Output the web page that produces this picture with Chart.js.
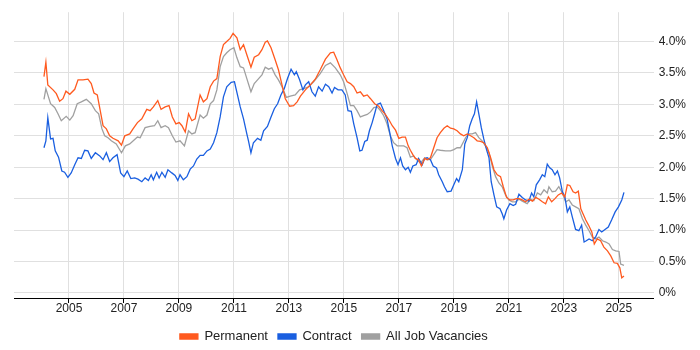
<!DOCTYPE html>
<html>
<head>
<meta charset="utf-8">
<script src="https://cdn.jsdelivr.net/npm/chart.js@4"></script>
<style>
  body { margin: 0; background: #fff; }
</style>
</head>
<body>
<canvas id="myChart" width="700" height="350"></canvas>
<script>

// datos (año decimal, % de vacantes)

const yearTicks = [2005, 2007, 2009, 2011, 2013, 2015, 2017, 2019, 2021, 2023, 2025];
const pctTicks = [0, 0.5, 1, 1.5, 2, 2.5, 3, 3.5, 4];

const permDates = [2004.09, 2004.16, 2004.23, 2004.42, 2004.54, 2004.66, 2004.78, 2004.89, 2005.03, 2005.21, 2005.33, 2005.51, 2005.69, 2005.81, 2005.91, 2006.03, 2006.18, 2006.24, 2006.36, 2006.48, 2006.60, 2006.79, 2006.91, 2007.03, 2007.21, 2007.33, 2007.49,
  2007.65, 2007.83, 2007.95, 2008.07, 2008.23, 2008.35, 2008.50, 2008.64, 2008.76, 2008.89, 2009.01, 2009.11, 2009.23, 2009.35, 2009.47, 2009.59, 2009.77, 2009.89, 2010.02, 2010.14, 2010.26, 2010.38, 2010.50, 2010.62, 2010.74, 2010.86, 2010.97,
  2011.11, 2011.23, 2011.35, 2011.47, 2011.62, 2011.74, 2011.90, 2012.02, 2012.14, 2012.22, 2012.35, 2012.50, 2012.62, 2012.75, 2012.87, 2013.03, 2013.17, 2013.30, 2013.42, 2013.60, 2013.78, 2013.96, 2014.14, 2014.33,
  2014.51, 2014.63, 2014.75, 2014.87, 2014.99, 2015.12, 2015.24, 2015.36, 2015.48, 2015.60, 2015.72, 2015.85, 2015.97, 2016.12, 2016.27, 2016.39, 2016.51, 2016.66, 2016.76, 2016.88, 2017.00, 2017.12, 2017.24, 2017.34, 2017.42, 2017.51, 2017.60, 2017.72, 2017.82, 2017.94,
  2018.03, 2018.15, 2018.27, 2018.39, 2018.51, 2018.64, 2018.76, 2018.88, 2019.00, 2019.12, 2019.24, 2019.36, 2019.49, 2019.61, 2019.73, 2019.85, 2019.97, 2020.09, 2020.22, 2020.34, 2020.46, 2020.58, 2020.70, 2020.80, 2020.92, 2021.04, 2021.16, 2021.28,
  2021.37, 2021.49, 2021.61, 2021.73, 2021.86, 2021.98, 2022.10, 2022.22, 2022.34, 2022.44, 2022.56, 2022.68, 2022.80, 2022.92, 2023.04, 2023.13, 2023.22, 2023.34, 2023.43, 2023.53, 2023.62, 2023.70, 2023.80, 2023.90, 2024.02, 2024.11, 2024.22, 2024.34, 2024.46, 2024.59, 2024.71, 2024.83, 2024.95, 2025.04, 2025.11, 2025.19];
const permValues = [3.44, 3.67, 3.31, 3.23, 3.17, 3.05, 3.09, 3.21, 3.16, 3.24, 3.39, 3.39, 3.40, 3.33, 3.18, 3.15, 2.80, 2.66, 2.61, 2.50, 2.46, 2.42, 2.35, 2.50, 2.53, 2.61, 2.71,
  2.77, 2.92, 2.90, 2.96, 3.06, 2.92, 2.96, 2.98, 2.80, 2.69, 2.71, 2.66, 2.56, 2.85, 2.74, 2.77, 3.15, 3.04, 3.09, 3.28, 3.37, 3.41, 3.76, 3.95, 4.00, 4.05, 4.13,
  4.06, 3.87, 3.95, 3.79, 3.59, 3.75, 3.79, 3.87, 3.99, 4.01, 3.90, 3.71, 3.55, 3.31, 3.09, 2.97, 2.98, 3.04, 3.13, 3.23, 3.31, 3.40, 3.55, 3.72,
  3.82, 3.83, 3.71, 3.58, 3.47, 3.36, 3.33, 3.28, 3.18, 3.20, 3.13, 3.15, 3.09, 3.01, 2.97, 2.90, 2.84, 2.74, 2.66, 2.59, 2.46, 2.48, 2.48, 2.34, 2.27, 2.20, 2.14, 2.12, 2.02, 2.14,
  2.12, 2.15, 2.31, 2.47, 2.55, 2.62, 2.66, 2.62, 2.61, 2.58, 2.53, 2.50, 2.53, 2.50, 2.47, 2.42, 2.41, 2.39, 2.31, 2.15, 1.96, 1.88, 1.85, 1.69, 1.52, 1.48, 1.48, 1.50,
  1.50, 1.48, 1.45, 1.49, 1.46, 1.52, 1.49, 1.45, 1.42, 1.53, 1.45, 1.50, 1.56, 1.59, 1.53, 1.72, 1.71, 1.61, 1.59, 1.62, 1.34, 1.26, 1.16, 1.08, 0.97, 0.78, 0.86, 0.83, 0.73, 0.67, 0.59, 0.48, 0.47, 0.40, 0.24, 0.27];

const contractDates = [2004.09, 2004.16, 2004.23, 2004.33, 2004.42, 2004.50, 2004.62, 2004.74, 2004.84, 2004.96, 2005.08, 2005.21, 2005.33, 2005.45, 2005.57, 2005.69, 2005.81, 2005.96, 2006.12, 2006.24, 2006.36, 2006.48, 2006.60, 2006.75, 2006.88, 2007.00, 2007.12, 2007.25, 2007.39, 2007.51,
  2007.65, 2007.77, 2007.89, 2007.99, 2008.07, 2008.19, 2008.28, 2008.38, 2008.50, 2008.60, 2008.74, 2008.86, 2008.96, 2009.04, 2009.16, 2009.29, 2009.41, 2009.53, 2009.65, 2009.77, 2009.89, 2010.02, 2010.14, 2010.26, 2010.38, 2010.50, 2010.62, 2010.74, 2010.90, 2011.02,
  2011.13, 2011.23, 2011.35, 2011.47, 2011.53, 2011.62, 2011.71, 2011.86, 2011.98, 2012.08, 2012.22, 2012.35, 2012.47, 2012.59, 2012.71, 2012.83, 2012.95, 2013.08, 2013.20, 2013.27, 2013.39, 2013.51, 2013.60, 2013.72, 2013.84, 2013.96, 2014.08, 2014.21, 2014.33,
  2014.45, 2014.57, 2014.66, 2014.79, 2014.93, 2015.05, 2015.15, 2015.27, 2015.36, 2015.48, 2015.58, 2015.66, 2015.76, 2015.85, 2015.93, 2016.03, 2016.12, 2016.21, 2016.33, 2016.45, 2016.57, 2016.67, 2016.76, 2016.88, 2016.97, 2017.06, 2017.14, 2017.24, 2017.34, 2017.42, 2017.51, 2017.63, 2017.72, 2017.85, 2017.94,
  2018.03, 2018.15, 2018.25, 2018.37, 2018.45, 2018.58, 2018.66, 2018.76, 2018.90, 2019.00, 2019.10, 2019.18, 2019.31, 2019.40, 2019.49, 2019.58, 2019.67, 2019.75, 2019.83, 2019.91, 2020.00, 2020.09, 2020.19, 2020.28, 2020.36, 2020.46, 2020.56, 2020.68, 2020.76, 2020.82, 2020.92, 2021.04, 2021.16,
  2021.25, 2021.37, 2021.49, 2021.61, 2021.73, 2021.83, 2021.91, 2022.00, 2022.12, 2022.22, 2022.31, 2022.40, 2022.49, 2022.58, 2022.68, 2022.77, 2022.85, 2022.95, 2023.04, 2023.13, 2023.22, 2023.31, 2023.43, 2023.55, 2023.65, 2023.74, 2023.82, 2023.92, 2024.04, 2024.16, 2024.28, 2024.38, 2024.50, 2024.62, 2024.74, 2024.87, 2024.99, 2025.11, 2025.19];
const contractValues = [2.31, 2.42, 2.79, 2.45, 2.46, 2.26, 2.16, 1.94, 1.92, 1.84, 1.91, 2.04, 2.15, 2.14, 2.27, 2.26, 2.14, 2.23, 2.18, 2.12, 2.23, 2.09, 2.15, 2.20, 1.91, 1.85, 1.94, 1.82, 1.83, 1.81,
  1.77, 1.83, 1.79, 1.88, 1.80, 1.92, 1.83, 1.92, 1.84, 1.96, 1.91, 1.87, 1.79, 1.88, 1.80, 1.85, 1.97, 2.02, 2.13, 2.19, 2.19, 2.26, 2.29, 2.39, 2.55, 2.80, 3.12, 3.28, 3.35, 3.36,
  3.15, 2.96, 2.77, 2.53, 2.42, 2.23, 2.39, 2.46, 2.43, 2.58, 2.65, 2.80, 2.93, 3.01, 3.15, 3.25, 3.41, 3.56, 3.47, 3.52, 3.39, 3.23, 3.31, 3.36, 3.20, 3.13, 3.28, 3.21, 3.32,
  3.28, 3.18, 3.27, 3.23, 3.23, 3.15, 2.90, 2.89, 2.69, 2.47, 2.26, 2.27, 2.41, 2.43, 2.58, 2.71, 2.85, 3.00, 3.02, 2.90, 2.77, 2.55, 2.34, 2.14, 2.04, 2.15, 2.02, 1.96, 2.00, 1.92, 2.02, 2.04, 2.14, 2.04, 2.14,
  2.15, 2.12, 2.02, 1.99, 1.88, 1.77, 1.69, 1.61, 1.62, 1.72, 1.82, 1.77, 1.96, 2.37, 2.47, 2.66, 2.77, 2.85, 3.04, 2.85, 2.63, 2.45, 2.28, 2.15, 1.77, 1.56, 1.37, 1.34, 1.26, 1.18, 1.32, 1.42, 1.39,
  1.41, 1.57, 1.52, 1.48, 1.46, 1.59, 1.53, 1.72, 1.80, 1.88, 1.85, 2.05, 1.99, 1.96, 1.88, 1.94, 1.83, 1.61, 1.53, 1.29, 1.37, 1.21, 1.01, 0.99, 1.08, 0.81, 0.83, 0.86, 0.83, 0.89, 1.01, 0.97, 1.01, 1.05, 1.16, 1.29, 1.37, 1.48, 1.60];

const allDates = [2004.09, 2004.16, 2004.33, 2004.48, 2004.60, 2004.72, 2004.90, 2005.03, 2005.15, 2005.30, 2005.45, 2005.63, 2005.81, 2005.96, 2006.08, 2006.20, 2006.30, 2006.42, 2006.54, 2006.72, 2006.91, 2007.05, 2007.21, 2007.49,
  2007.59, 2007.77, 2007.95, 2008.11, 2008.23, 2008.35, 2008.50, 2008.62, 2008.76, 2008.89, 2009.04, 2009.20, 2009.35, 2009.47, 2009.59, 2009.77, 2009.89, 2010.02, 2010.14, 2010.26, 2010.38, 2010.50, 2010.62, 2010.74, 2010.86, 2011.00,
  2011.11, 2011.23, 2011.35, 2011.47, 2011.62, 2011.74, 2011.90, 2012.02, 2012.14, 2012.26, 2012.38, 2012.50, 2012.62, 2012.75, 2012.91, 2013.05, 2013.23, 2013.39, 2013.54, 2013.72, 2013.90, 2014.14, 2014.33,
  2014.51, 2014.69, 2014.87, 2014.99, 2015.12, 2015.24, 2015.36, 2015.48, 2015.60, 2015.72, 2015.85, 2015.97, 2016.09, 2016.21, 2016.33, 2016.45, 2016.57, 2016.69, 2016.81, 2016.94, 2017.06, 2017.18, 2017.30, 2017.42, 2017.54, 2017.67, 2017.79, 2017.94,
  2018.03, 2018.15, 2018.27, 2018.39, 2018.51, 2018.70, 2018.88, 2019.00, 2019.12, 2019.24, 2019.31, 2019.43, 2019.55, 2019.67, 2019.79, 2019.91, 2020.03, 2020.15, 2020.28, 2020.40, 2020.52, 2020.64, 2020.76, 2020.88, 2021.00, 2021.13,
  2021.25, 2021.37, 2021.49, 2021.67, 2021.79, 2021.91, 2022.04, 2022.16, 2022.28, 2022.40, 2022.46, 2022.58, 2022.70, 2022.82, 2022.95, 2023.07, 2023.19, 2023.31, 2023.43, 2023.55, 2023.68, 2023.80, 2023.92, 2024.04, 2024.16, 2024.28, 2024.41, 2024.53, 2024.65, 2024.77, 2024.89, 2025.01, 2025.07, 2025.19];
const allValues = [3.08, 3.25, 3.01, 2.95, 2.85, 2.74, 2.81, 2.75, 2.82, 3.01, 3.04, 3.08, 3.01, 2.90, 2.85, 2.61, 2.50, 2.47, 2.42, 2.37, 2.23, 2.34, 2.37, 2.48,
  2.47, 2.63, 2.65, 2.66, 2.74, 2.63, 2.66, 2.63, 2.50, 2.40, 2.42, 2.34, 2.58, 2.53, 2.55, 2.83, 2.78, 2.83, 3.01, 3.06, 3.23, 3.60, 3.76, 3.82, 3.87, 3.90,
  3.74, 3.60, 3.58, 3.41, 3.20, 3.33, 3.41, 3.47, 3.59, 3.56, 3.58, 3.47, 3.39, 3.28, 3.11, 3.13, 3.15, 3.23, 3.25, 3.28, 3.36, 3.49, 3.62,
  3.66, 3.58, 3.47, 3.36, 3.17, 2.98, 2.98, 2.90, 2.80, 2.82, 2.84, 2.88, 2.95, 2.96, 2.90, 2.82, 2.69, 2.50, 2.39, 2.34, 2.34, 2.34, 2.31, 2.16, 2.18, 2.11, 2.07, 2.15,
  2.12, 2.12, 2.20, 2.28, 2.27, 2.26, 2.26, 2.28, 2.31, 2.31, 2.37, 2.47, 2.53, 2.53, 2.55, 2.47, 2.42, 2.34, 2.23, 2.02, 1.85, 1.75, 1.69, 1.56, 1.48, 1.45,
  1.45, 1.49, 1.46, 1.42, 1.49, 1.47, 1.59, 1.56, 1.64, 1.59, 1.69, 1.61, 1.62, 1.69, 1.59, 1.45, 1.48, 1.40, 1.37, 1.34, 1.18, 1.08, 0.99, 0.89, 0.86, 0.89, 0.83, 0.81, 0.78, 0.69, 0.67, 0.66, 0.46, 0.44];


function toPoints(dates, values) {
    return dates.map((d, i) => ({ x: d, y: values[i] }));
}

const ctx = document.querySelector("#myChart");

new Chart(ctx, {
  type: 'line',
  data: {
    datasets: [{
      label: 'Permanent',
      data: toPoints(permDates, permValues),
      borderColor: '#ff5a1f',
      backgroundColor: '#ff5a1f',
      borderWidth: 1.3,
      pointRadius: 0
    }, {
      label: 'Contract',
      data: toPoints(contractDates, contractValues),
      borderColor: '#1a5fe0',
      backgroundColor: '#1a5fe0',
      borderWidth: 1.3,
      pointRadius: 0
    }, {
      label: 'All Job Vacancies',
      data: toPoints(allDates, allValues),
      borderColor: '#a0a0a0',
      backgroundColor: '#a0a0a0',
      borderWidth: 1.3,
      pointRadius: 0
    }]
  },
  options: {
    responsive: false,
    animation: false,
    layout: {
      padding: { left: 14, right: 9, top: 12, bottom: -3 }
    },
    plugins: {
      tooltip: { enabled: false },
      legend: {
        position: 'bottom',
        fullSize: false,   // centrada bajo el area del grafico
        labels: {
          boxWidth: 18,
          boxHeight: 5,
          padding: 10,
          color: '#222',
          font: { family: 'Liberation Sans, Arial, sans-serif', size: 13 }
        }
      }
    },
    scales: {
      x: {
        type: 'linear',
        min: 2003,
        max: 2026.27,
        afterBuildTicks: (scale) => {
          scale.ticks = yearTicks.map(v => ({ value: v }));
        },
        ticks: {
          color: '#222',
          padding: 0,
          maxRotation: 0,
          font: { family: 'Liberation Sans, Arial, sans-serif', size: 12, lineHeight: 1 },
          callback: (v) => String(v)
        },
        // titulo vacio solo para dejar espacio antes de la leyenda
        title: {
          display: true,
          text: '',
          font: { size: 5, lineHeight: 1 },
          padding: 0
        },
        grid: {
          color: '#e0e0e0',
          tickColor: '#000',
          tickLength: 5
        },
        border: { color: '#000', width: 1 }
      },
      y: {
        position: 'right',
        min: -0.08,
        max: 4.466,
        afterBuildTicks: (scale) => {
          scale.ticks = pctTicks.map(v => ({ value: v }));
        },
        ticks: {
          color: '#222',
          padding: 5,
          font: { family: 'Liberation Sans, Arial, sans-serif', size: 12 },
          callback: (v) => v === 0 ? '0%' : v.toFixed(1) + '%'
        },
        grid: {
          color: '#e0e0e0',
          drawTicks: false
        },
        border: { display: false }
      }
    }
  }
});
</script>
</body>
</html>
